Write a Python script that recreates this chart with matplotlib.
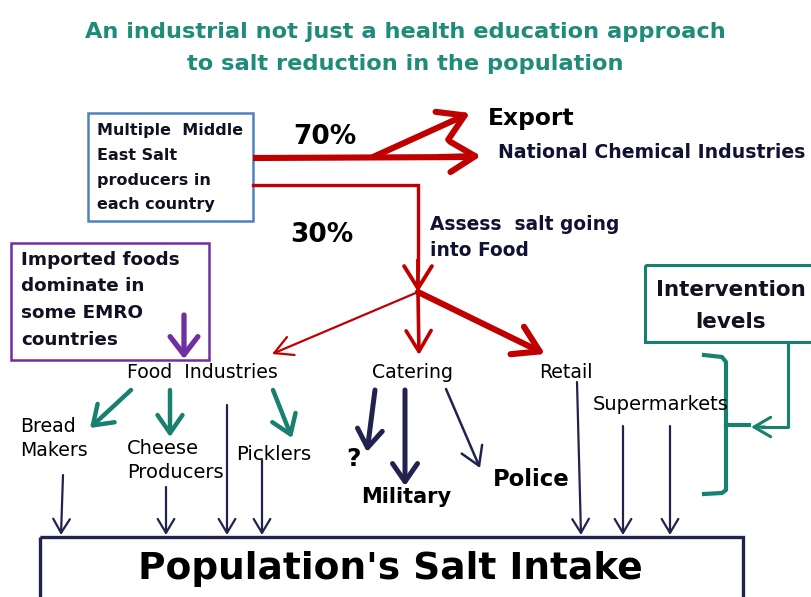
import matplotlib.pyplot as plt
from matplotlib.patches import Rectangle

plt.rcParams['font.family'] = ['DejaVu Sans']

# Diagram text
title_lines = ["An industrial not just a health education approach",
               "to salt reduction in the population"]
source_label = "Multiple  Middle\nEast Salt\nproducers in\neach country"
shares = ["70%", "30%"]
destinations = ["Export", "National Chemical Industries"]
assess_label = "Assess  salt going\ninto Food"
import_label = "Imported foods\ndominate in\nsome EMRO\ncountries"
sectors = ["Food  Industries", "Catering", "Retail"]
food_sub = ["Bread\nMakers", "Cheese\nProducers", "Picklers"]
catering_sub = ["?", "Military", "Police"]
retail_sub = ["Supermarkets"]
intervention_label = "Intervention\nlevels"
outcome_label = "Population's Salt Intake"

RED = '#c00000'
NAVY = '#22224f'
TEAL = '#17806f'
TITLE = '#1f8b7b'
PURPLE = '#7030a0'
BLUE = '#4f81bd'

fig = plt.figure(figsize=(8.11, 5.97), dpi=100)
ax = fig.add_axes([0, 0, 1, 1])
ax.set_xlim(0, 811)
ax.set_ylim(597, 0)
ax.axis('off')


def arrow(x0, y0, x1, y1, color, lw, hl, hw):
    ax.annotate('', xy=(x1, y1), xytext=(x0, y0),
                arrowprops=dict(arrowstyle=f'->,head_length={hl},head_width={hw}',
                                color=color, lw=lw, shrinkA=0, shrinkB=0,
                                mutation_scale=10))


def lines(x, ys, label, ha='left', **kw):
    for y, s in zip(ys, label.split('\n')):
        ax.text(x, y, s, ha=ha, va='center', **kw)


# title
lines(405, [32, 64], '\n'.join(title_lines), ha='center', fontsize=16.2,
      fontweight='bold', color=TITLE)

# source box
ax.add_patch(Rectangle((88, 113), 165, 108, fill=False, ec=BLUE, lw=1.8))
lines(97, [131, 155, 180, 204], source_label, fontsize=11.5,
      fontweight='bold', color='#111122')

# 70% branch
ax.plot([253, 470], [158, 157], color=RED, lw=4.4, solid_capstyle='butt')
arrow(440, 157, 481, 156, RED, 4.4, 1.8, 1.1)
arrow(373, 157, 470, 113, RED, 4.4, 1.8, 1.1)
ax.text(325, 137, shares[0], ha='center', va='center', fontsize=19, fontweight='bold')
ax.text(488, 118, destinations[0], ha='left', va='center', fontsize=16.8, fontweight='bold')
ax.text(498, 153, destinations[1], ha='left', va='center', fontsize=13.6,
        fontweight='bold', color='#111133')

# 30% branch
ax.plot([253, 418, 418], [185, 185, 270], color=RED, lw=2.4, solid_joinstyle='miter')
arrow(418, 260, 418, 292, RED, 2.8, 1.6, 1.0)
ax.text(322, 235, shares[1], ha='center', va='center', fontsize=19, fontweight='bold')
lines(430, [225, 250], assess_label, fontsize=13.4,
      fontweight='bold', color='#111133')

# split into sectors
arrow(418, 292, 272, 354, RED, 1.6, 1.3, 0.7)
arrow(418, 292, 419, 355, RED, 2.6, 1.5, 0.9)
arrow(418, 292, 545, 354, RED, 4.4, 1.8, 1.1)

# imported foods box
ax.add_patch(Rectangle((11, 243), 198, 117, fill=False, ec=PURPLE, lw=1.8))
lines(21, [260, 286, 313, 340], import_label, fontsize=13.2,
      fontweight='bold', color='#111122')
arrow(184, 315, 184, 359, PURPLE, 3.8, 1.3, 1.0)

# sectors
ax.text(127, 373, sectors[0], ha='left', va='center', fontsize=13.6)
ax.text(372, 373, sectors[1], ha='left', va='center', fontsize=13.6)
ax.text(539, 373, sectors[2], ha='left', va='center', fontsize=13.6)

# food industry sub-groups
arrow(131, 390, 90, 428, TEAL, 3.2, 1.3, 0.9)
arrow(170, 390, 170, 437, TEAL, 3.2, 1.3, 0.9)
arrow(273, 390, 292, 438, TEAL, 3.2, 1.3, 0.9)
lines(20, [427, 451], food_sub[0], fontsize=13.6)
lines(127, [449, 472], food_sub[1], fontsize=14)
ax.text(236, 454, food_sub[2], ha='left', va='center', fontsize=14.2)

# catering sub-groups
arrow(375, 390, 367, 452, NAVY, 3.6, 1.3, 0.9)
arrow(405, 390, 405, 486, NAVY, 3.6, 1.3, 0.9)
arrow(446, 389, 480, 468, NAVY, 1.8, 1.3, 0.8)
ax.text(354, 459, catering_sub[0], ha='center', va='center', fontsize=18, fontweight='bold')
ax.text(406, 497, catering_sub[1], ha='center', va='center', fontsize=15, fontweight='bold')
ax.text(531, 480, catering_sub[2], ha='center', va='center', fontsize=16.4, fontweight='bold')

# retail
ax.text(593, 405, retail_sub[0], ha='left', va='center', fontsize=14)

# flows into population intake
for x0, y0, x1 in [(63, 475, 61), (166, 487, 166), (227, 405, 227), (262, 460, 262),
                   (577, 382, 581), (623, 426, 623), (670, 426, 670)]:
    arrow(x0, y0, x1, 535, NAVY, 1.6, 1.0, 0.6)

ax.add_patch(Rectangle((40, 537), 703, 80, fill=False, ec=NAVY, lw=2.4))
ax.text(390, 569, outcome_label, ha='center', va='center', fontsize=27, fontweight='bold')

# intervention levels
ax.add_patch(Rectangle((645, 265), 175, 77, fill=False, ec=TEAL, lw=2.2))
lines(731, [290, 322], intervention_label, ha='center', fontsize=15.5,
      fontweight='bold', color='#111122')
ax.plot([788, 788, 762], [342, 427, 427], color=TEAL, lw=2.2)
arrow(765, 427, 751, 427, TEAL, 2.2, 1.2, 0.7)
ax.plot([704, 722, 726, 726, 722, 704], [355, 357, 362, 490, 493, 494],
        color=TEAL, lw=3, solid_joinstyle='round')
ax.plot([726, 749], [425, 425], color=TEAL, lw=3)

fig.savefig('out.png', dpi=100)
